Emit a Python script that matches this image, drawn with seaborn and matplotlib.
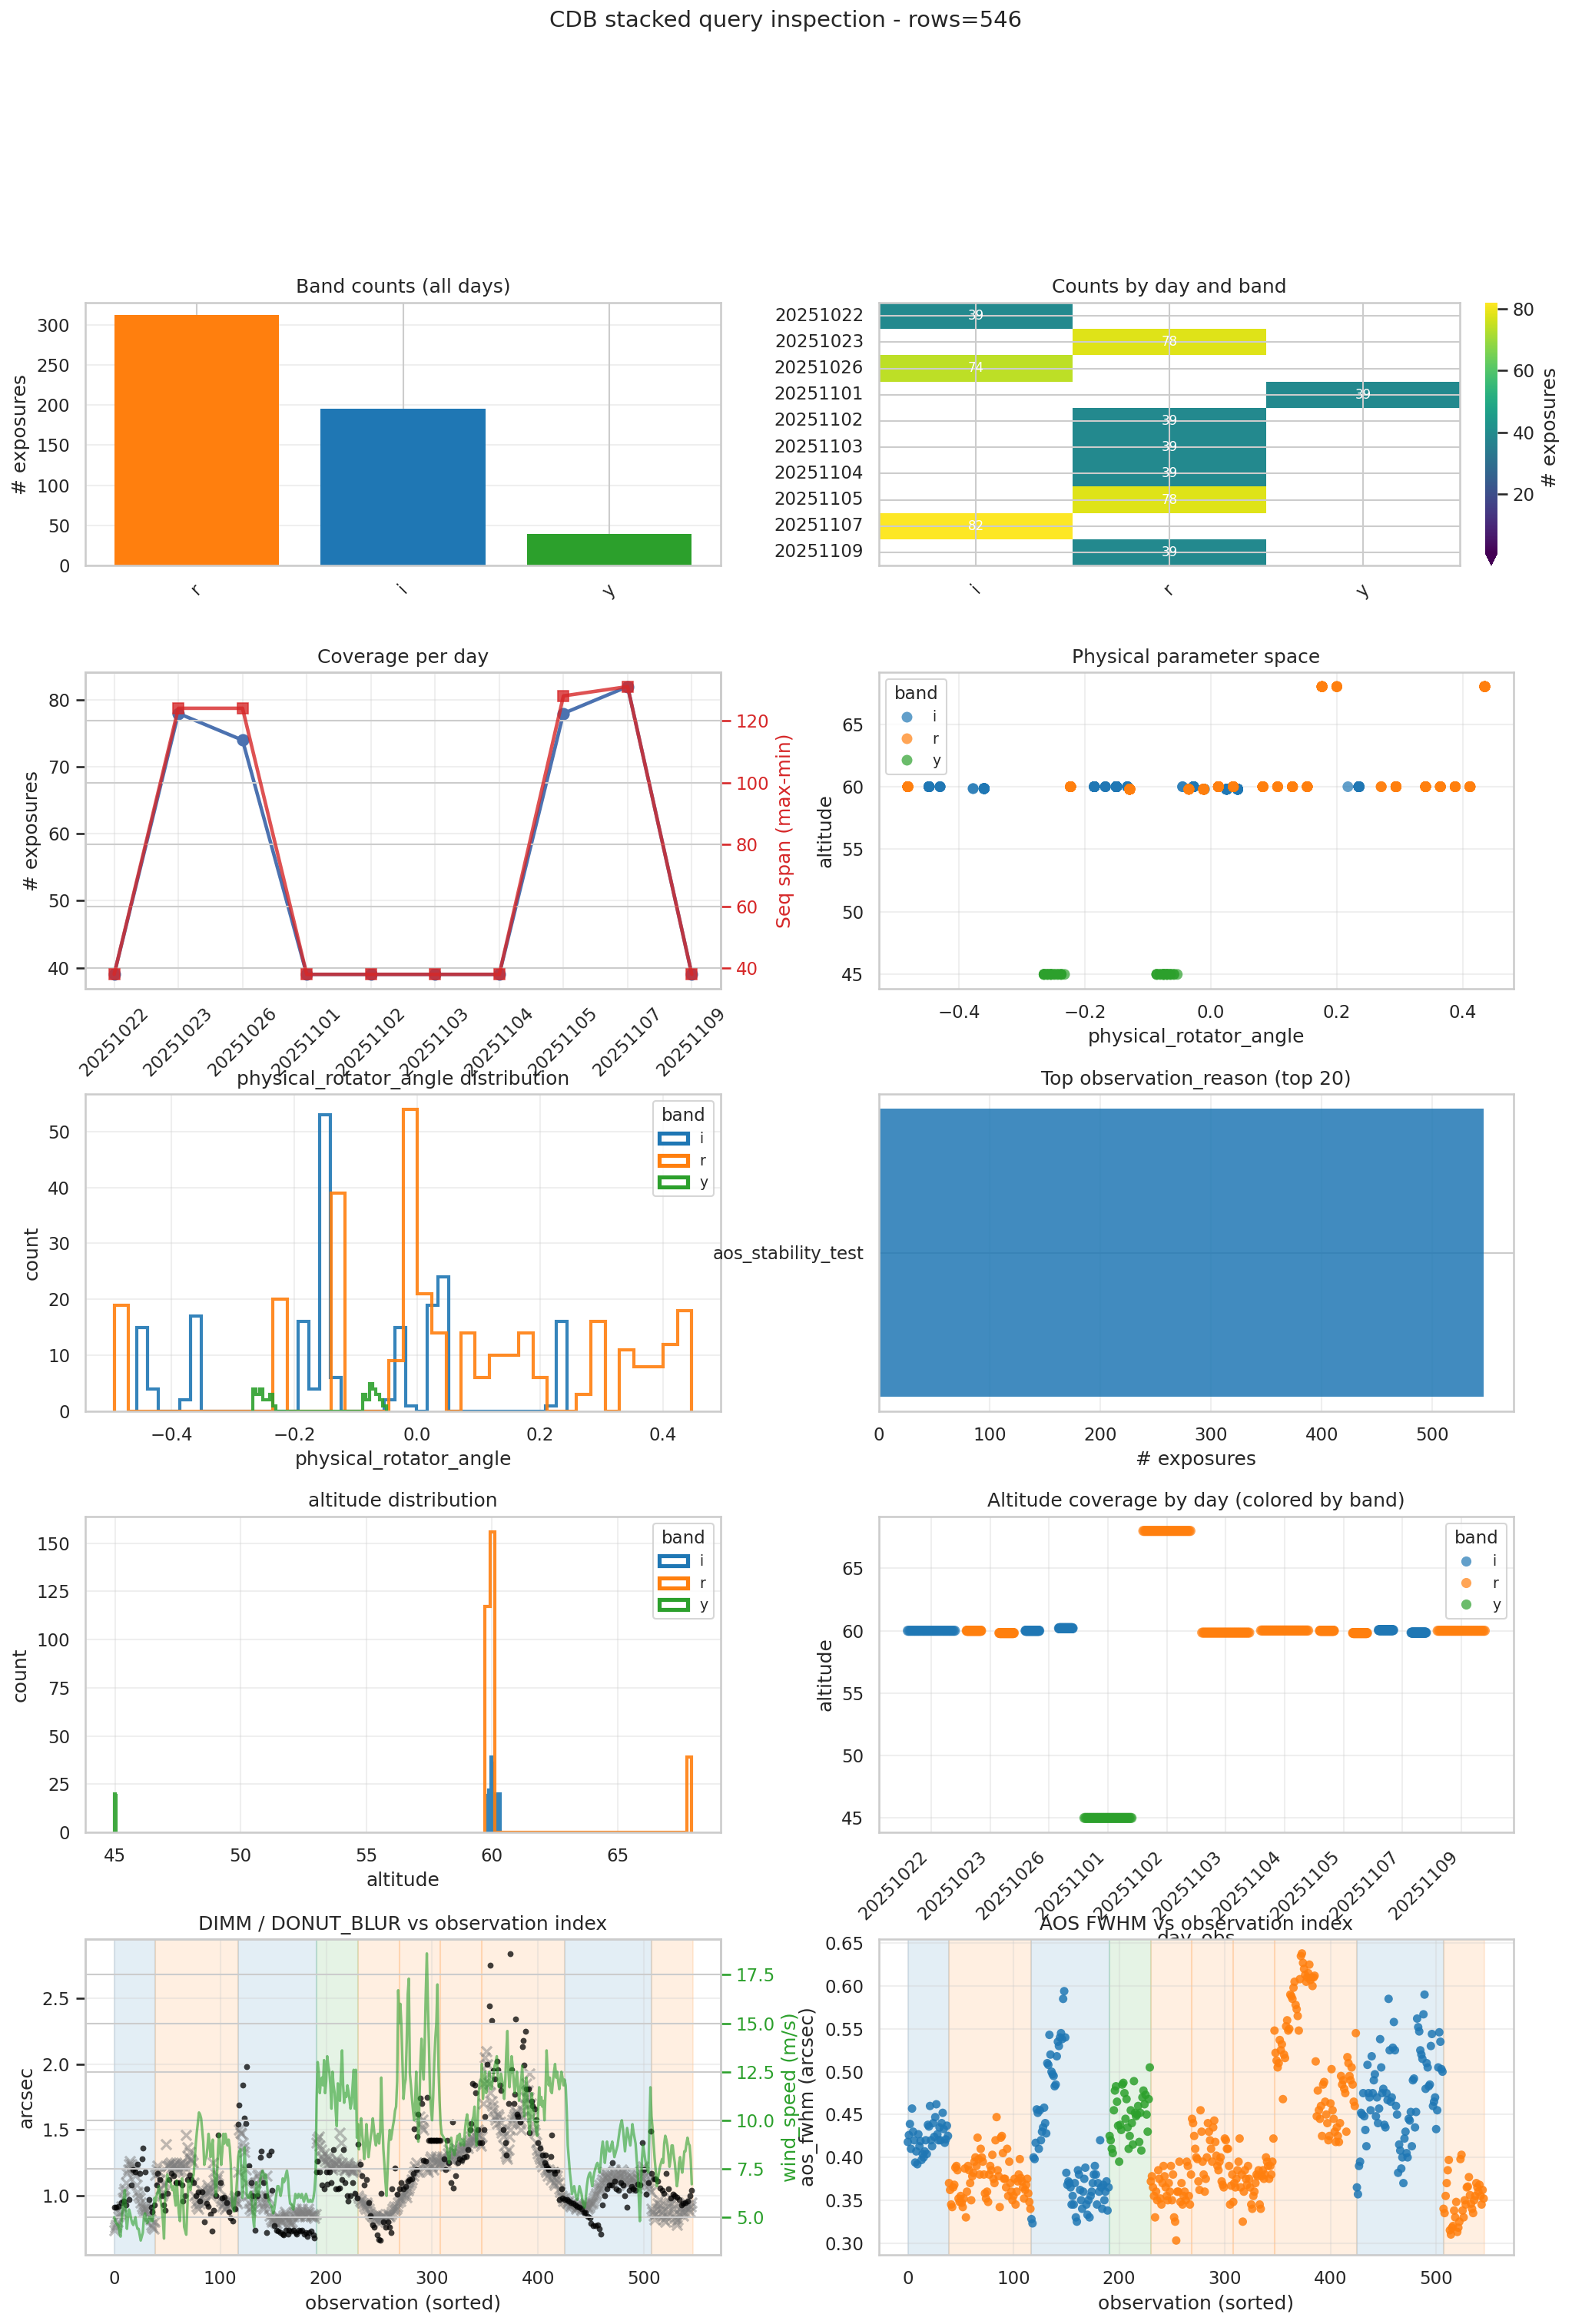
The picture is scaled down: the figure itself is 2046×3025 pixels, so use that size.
import numpy as np
import pandas as pd
import matplotlib
matplotlib.use("Agg")
import matplotlib.pyplot as plt
from matplotlib.patches import Patch
import seaborn as sns

# ----------------------------------------------------------------- data
DAYS = ["20251022", "20251023", "20251026", "20251101", "20251102",
        "20251103", "20251104", "20251105", "20251107", "20251109"]
BANDS = ["i", "r", "y"]
BAND_COLORS = {"i": "#1f77b4", "r": "#ff7f0e", "y": "#2ca02c"}

# exposure blocks (consecutive seq numbers) per day
blk_day = ["20251022", "20251023", "20251023", "20251026", "20251026", "20251101", "20251102",
           "20251103", "20251104", "20251105", "20251105", "20251107", "20251107", "20251109"]
blk_band = ["i", "r", "r", "i", "i", "y", "r", "r", "r", "r", "r", "i", "i", "r"]
blk_alt = [60.0, 60.0, 59.82, 60.0, 60.2, 45.0, 68.0, 59.85, 60.02, 60.0, 59.82, 60.05, 59.85, 60.0]
blk_seq0 = [1, 1, 87, 1, 89, 1, 1, 1, 1, 1, 91, 1, 92, 1]
blk_n = [39, 39, 39, 37, 37, 39, 39, 39, 39, 39, 39, 41, 41, 39]

# physical_rotator_angle histograms (range, counts in 40 bins)
rot_i_range = (-0.4563, 0.2441)
rot_i_counts = [15, 4, 0, 0, 2, 17, 0, 0, 0, 0, 0, 0, 0, 0, 0, 16, 4, 53, 6, 0,
                0, 0, 0, 2, 15, 1, 0, 19, 24, 0, 0, 0, 0, 0, 0, 0, 0, 0, 1, 16]
rot_r_range = (-0.493, 0.447)
rot_r_counts = [19, 0, 0, 0, 0, 0, 0, 0, 0, 0, 0, 20, 0, 0, 0, 39, 0, 0, 0, 9,
                54, 21, 14, 0, 14, 6, 10, 10, 14, 6, 0, 0, 3, 16, 0, 11, 8, 8, 12, 18]
rot_y_range = (-0.2675, -0.0505)
rot_y_counts = [4, 3, 4, 2, 2, 3, 1, 0, 0, 0, 0, 0, 0, 0, 0, 0, 0, 0, 0, 0,
                0, 0, 0, 0, 0, 0, 0, 0, 0, 0, 0, 0, 0, 3, 2, 5, 4, 3, 2, 1]
# altitude of the exposures in each rotator bin
rot_i_alt = {0: 60.0, 1: 60.0, 4: 59.85, 5: 59.85, 15: 60.0, 16: 60.0, 17: 60.0, 18: 60.0,
             23: 60.0, 24: 60.0, 25: 59.8, 27: 59.8, 28: 59.8, 38: 60.0, 39: 60.0}
rot_r_alt = {0: 60.0, 11: 60.0, 15: 59.8, 19: 59.8, 20: 59.8, 21: 60.0, 22: 60.0, 24: 60.0,
             25: 60.0, 26: 60.0, 27: 60.0, 28: 68.0, 29: 68.0, 32: 60.0, 33: 60.0, 35: 60.0,
             36: 60.0, 37: 60.0, 38: 60.0, 39: 68.0}
rot_y_alt = 45.0

# altitude histograms
alt_i_range = (59.84, 60.32)
alt_i_counts = [19, 22, 0, 39, 36, 20, 0, 0, 0, 19, 20, 20]
alt_r_range = (59.72, 67.96)
alt_r_counts = [117, 156] + [0] * 37 + [39]
alt_y_range = (44.97, 45.03)
alt_y_counts = [20, 19]

# per-observation series (sorted observation index 0..545)
aos_fwhm_mas = [
    418, 426, 439, 410, 457, 430, 420, 394, 407, 392, 427, 413, 419, 397, 404, 400, 407, 420, 404, 438,
    436, 460, 420, 413, 440, 424, 447, 462, 427, 420, 435, 420, 440, 452, 433, 417, 421, 437, 425,
    370, 362, 345, 342, 365, 368, 388, 390, 385, 352, 348, 355, 347, 342, 352, 387, 330, 360, 390, 385,
    370, 350, 378, 382, 395, 400, 390, 423, 398, 380, 410, 400, 395, 380, 358, 352, 360, 348, 380, 390,
    385, 403, 375, 370, 420, 447, 385, 378, 342, 423, 425, 405, 375, 375, 365, 410, 355, 395, 370, 360,
    350, 355, 375, 345, 360, 372, 380, 398, 376, 372, 365, 352, 362, 368, 375, 358, 348, 340,
    328, 323, 400, 398, 417, 456, 452, 410, 455, 420, 430, 435, 458, 440, 428, 510, 508, 543, 520, 500,
    497, 495, 483, 485, 518, 535, 530, 540, 545, 538, 585, 594, 540, 382, 368, 372, 370, 365, 345, 355,
    345, 370, 330, 325, 385, 380, 362, 350, 340, 360, 375, 388, 345, 333, 350, 330, 355, 360, 370, 380,
    390, 380, 345, 370, 360, 420, 365, 340, 368, 350, 360, 372, 338, 365,
    425, 420, 410, 405, 455, 478, 483, 465, 437, 395, 438, 432, 485, 487, 475, 445, 468, 435, 410, 425,
    455, 440, 415, 489, 452, 448, 450, 460, 418, 452, 408, 470, 478, 462, 473, 450, 430, 468, 505,
    372, 378, 365, 355, 330, 360, 350, 385, 375, 352, 345, 370, 390, 378, 365, 355, 350, 370, 360, 390,
    350, 380, 330, 325, 303, 360, 360, 395, 348, 370, 345, 355, 360, 350, 395, 390, 355, 345, 380,
    445, 440, 425, 410, 400, 398, 372, 362, 455, 430, 395, 380, 360, 375, 400, 440, 430, 420, 410, 395,
    435, 443, 418, 402, 390, 385, 395, 400, 372, 368, 365, 422, 420, 410, 410, 390, 345, 367, 380,
    348, 370, 365, 375, 385, 395, 422, 365, 380, 325, 360, 385, 375, 368, 390, 375, 365, 345, 340, 355,
    360, 370, 380, 378, 385, 345, 340, 378, 385, 375, 380, 400, 395, 390, 375, 390, 380, 395, 422,
    548, 522, 513, 505, 510, 537, 525, 532, 468, 520, 516, 553, 560, 548, 550, 590, 588, 585, 598, 605,
    578, 573, 565, 548, 608, 635, 638, 627, 620, 613, 605, 610, 615, 625, 607, 610, 600, 610, 612, 512,
    448, 478, 455, 445, 460, 425, 485, 488, 465, 450, 440, 420, 425, 463, 503, 455, 445, 430, 418, 435,
    425, 418, 440, 495, 485, 490, 480, 475, 430, 517, 510, 495, 490, 505, 485, 465, 460, 545,
    365, 357, 390, 395, 452, 450, 475, 448, 432, 413, 508, 475, 470, 455, 518, 475, 490, 497, 448, 470,
    440, 457, 538, 505, 475, 480, 438, 435, 475, 467, 585, 525, 465, 470, 528, 558, 525, 460, 450, 382,
    415, 408, 387, 400, 370, 422, 430, 405, 400, 445, 443, 453, 413, 490, 492, 435, 453, 562, 552, 547,
    525, 520, 515, 567, 590, 480, 510, 505, 483, 485, 530, 544, 460, 465, 470, 433, 455, 505, 546, 535,
    503, 500,
    340, 335, 355, 370, 385, 397, 315, 310, 318, 320, 338, 330, 348, 313, 318, 325, 398, 403, 338, 330,
    350, 345, 365, 366, 377, 356, 346, 340, 335, 350, 355, 370, 365, 360, 368, 355, 345, 362, 352]

# DIMM seeing (hundredths of arcsec); None = no DIMM sample for that exposure
dimm_cs = [
    91, None, 91, None, 92, None, None, 95, None, 96, None, 93, None, None, 97, None, 108, None, 120, None,
    118, None, 124, None, 117, None, 128, 136, None, 118, None, 105, None, 97, None, 91, 88, None, 93,
    None, 108, 117, None, 112, None, 100, None, 93, 89, None, 102, None, 112, None, 117, None, 115, None, 110,
    110, None, 110, None, None, 108, 96, None, 100, None, 112, None, 116, None, 112, None, 110, None, 100, None,
    103, None, 96, None, 103, None, 80, None, 94, None, 92, None, 86, 73, None, 89, None, 100, None, 146,
    None, 110, None, 98, None, 99, None, 95, None, 88, None, 83, None, 81, None, 90, None, 102,
    154, 169, None, None, 184, None, 159, 155, 198, None, 123, None, 110, None, 100, None, 74, None, 100, None,
    None, 129, 134, None, 110, None, 100, 72, None, 131, None, 134, 104, None, 77, None, 74, None, 73, None,
    72, None, 71, 70, None, 74, None, 71, 74, None, 73, None, 74, None, 72, 71, None, 74, None, 73,
    74, None, 71, None, 72, 69, None, 72, None, 73, None, 70, 68, None,
    118, 126, None, 118, None, 108, None, 105, None, 118, 109, None, 118, None, 110, None, 135, None, 105, None,
    105, None, 106, None, 112, 135, None, 110, None, 100, 96, None, 100, None, 110, None, 102, None, 98,
    139, None, 124, None, 115, None, 108, None, 112, None, 95, None, 85, None, 78, 76, None, None, 70, None,
    67, 66, 102, None, 80, None, 76, None, 80, None, 76, 72, 105, None, None, 121, None, 101, None, 105,
    None, 110, None, 105, None, 107, None, 111, None, 112, None, 113, 117, 151, None, 120, 145, 162, None, 174,
    170, None, 127, None, 126, 175, None, 142, 142, 142, 142, 142, 142, 142, 142, 142, 142, None, 142, None,
    None, 128, None, 120, 142, None, 125, None, 110, 156, 106, None, 115, None, 125, None, 128, None, 127, None,
    129, None, 130, None, 135, None, 150, 155, 185, None, 184, 178, None, 150, None, 140, None, 140, None, 150,
    160, None, 200, None, 244, 275, 233, None, 195, 189, None, 202, 196, None, 184, 180, None, 150, None, 140,
    131, None, 170, None, 284, 196, None, 170, 177, 234, 162, 160, None, 156, None, 213, 218, 199, 225, 181,
    None, 181, 148, None, 172, 168, None, 166, 158, None, 140, None, 136, None, 131, None, 125, 131, 123, 121,
    120, None, 130, 146, None, 119, 117, None, 119, None, 97, None, 105, 98, None,
    97, None, 97, None, 96, None, 95, None, 94, None, 93, None, 92, None, 91, None, 90, None, 87, None,
    87, None, 84, None, 83, 79, None, 77, None, 77, None, 78, None, 75, 71, None, 93, None, 100, None,
    105, None, 108, None, 108, 125, None, 111, None, 105, None, 104, None, 110, None, 108, None, 100, None, 91,
    None, 104, None, 107, None, 105, None, 104, None, 109, None, 108, None, 140, None, 120, None, 101, None, 110,
    None, 149,
    117, None, 113, None, 113, None, 111, None, 106, None, 104, None, 102, None, 117, None, 105, None, 98, None,
    101, None, 100, None, 99, None, 97, None, 93, None, 94, None, 95, None, 96, None, 100, None, 104]

donut_cs = [
    74, 76, 78, 80, 84, 86, 88, 92, 98, 103, 105, 110, 117, 120, 124, 126, 124, 122, 120, 118,
    115, 108, 103, 100, 98, 95, 92, 90, 88, 90, 92, 89, 86, 84, 82, 78, 76, 75, 80,
    116, 120, 123, 118, 112, 105, 100, 102, 108, 110, 139, 122, 123, 124, 125, 121, 122, 123, 124, 125,
    122, 120, 118, 124, 125, 123, 118, 122, 124, 146, 137, 130, 133, 128, 127, 125, 110, 100, 95, 92,
    90, 97, 94, 99, 104, 100, 95, 102, 104, 108, 106, 103, 100, 105, 125, 118, 110, 108, 112, 115,
    105, 98, 96, 92, 94, 95, 90, 92, 96, 94, 93, 95, 96, 92, 98, 100, 96, 94,
    118, 150, 148, 147, 140, 137, 133, 120, 110, 100, 95, 90, 88, 92, 96, 100, 105, 110, 115, 117,
    112, 100, 95, 92, 90, 95, 100, 115, 98, 90, 85, 82, 80, 81, 83, 80, 79, 82, 84, 83,
    81, 80, 82, 85, 88, 86, 84, 82, 80, 79, 78, 80, 84, 87, 90, 88, 86, 84, 85, 87,
    90, 88, 86, 84, 85, 88, 90, 87, 85, 84, 86, 85, 83, 86,
    140, 143, 145, 138, 135, 130, 128, 132, 126, 124, 130, 128, 125, 123, 121, 120, 122, 125, 124, 128,
    126, 122, 148, 140, 125, 122, 120, 119, 121, 123, 125, 122, 120, 119, 118, 120, 122, 124, 120,
    100, 98, 96, 97, 95, 94, 92, 90, 95, 93, 90, 88, 86, 85, 84, 83, 82, 84, 86, 83,
    82, 80, 83, 85, 84, 82, 80, 83, 86, 85, 84, 86, 88, 90, 92, 89, 90, 92, 95, 98,
    96, 98, 100, 102, 104, 101, 99, 104, 106, 108, 110, 112, 115, 118, 122, 125, 120, 118, 160, 155,
    152, 158, 150, 125, 122, 120, 118, 125, 128, 130, 122, 120, 125, 128, 130, 126, 124, 122, 125, 128,
    130, 127, 123, 125, 128, 132, 135, 130, 128, 126, 130, 133, 136, 132, 130, 128, 132, 135, 138, 136,
    134, 137, 140, 138, 136, 140, 142, 145, 143, 140, 142, 145, 148, 150, 146, 140, 138, 145, 170, 185,
    205, 210, 200, 192, 185, 178, 172, 168, 165, 160, 158, 155, 162, 160, 156, 150, 148, 145, 138, 132,
    130, 128, 135, 145, 150, 155, 158, 160, 162, 164, 163, 160, 158, 155, 150, 165, 160, 170, 175, 185,
    180, 175, 193, 170, 160, 155, 150, 148, 140, 135, 132, 130, 128, 125, 122, 128, 125, 120, 118, 115,
    120, 118, 112, 115, 118, 110, 108, 112, 115, 110, 105, 103, 100, 98, 96,
    98, 96, 95, 94, 96, 93, 92, 94, 95, 93, 92, 90, 91, 93, 92, 90, 89, 91, 92, 93,
    94, 92, 90, 91, 93, 95, 94, 96, 98, 100, 102, 104, 106, 108, 105, 110, 112, 115, 118, 114,
    116, 112, 110, 108, 112, 115, 118, 120, 116, 113, 110, 112, 115, 117, 120, 118, 116, 112, 110, 108,
    110, 112, 115, 118, 114, 112, 110, 108, 106, 109, 112, 115, 118, 120, 122, 118, 115, 112, 110, 108,
    105, 103,
    90, 88, 85, 82, 86, 90, 94, 97, 93, 90, 88, 85, 82, 80, 84, 88, 92, 95, 98, 94,
    90, 86, 83, 80, 78, 82, 86, 90, 92, 88, 85, 88, 92, 95, 93, 90, 88, 92, 95]

wind_dms = [
    50, 48, 47, 46, 46, 42, 40, 48, 55, 60, 64, 52, 44, 50, 54, 52, 49, 47, 46, 48,
    50, 46, 44, 44, 41, 38, 40, 42, 50, 52, 49, 47, 48, 50, 50, 48, 48, 52, 60,
    58, 61, 63, 66, 62, 58, 54, 48, 39, 61, 65, 72, 70, 69, 68, 66, 64, 66, 60, 56,
    69, 60, 52, 48, 58, 70, 60, 45, 43, 41, 55, 69, 66, 64, 68, 70, 72, 80, 88, 94,
    99, 104, 103, 101, 95, 89, 77, 80, 81, 86, 93, 88, 81, 86, 90, 74, 68, 61, 72, 85,
    93, 85, 77, 84, 93, 88, 93, 90, 87, 90, 86, 77, 60, 55, 53, 58, 62, 70,
    81, 84, 85, 72, 60, 68, 86, 75, 62, 60, 60, 62, 63, 58, 50, 45, 55, 68, 64, 61,
    65, 70, 72, 74, 72, 70, 72, 68, 61, 58, 57, 56, 55, 52, 54, 58, 62, 66, 66, 64,
    61, 64, 70, 68, 69, 72, 74, 70, 62, 57, 57, 55, 54, 58, 62, 60, 60, 62, 61, 60,
    62, 60, 58, 60, 62, 60, 58, 58, 59, 58, 58, 60, 64, 72,
    111, 130, 125, 114, 120, 122, 118, 131, 114, 120, 133, 128, 125, 118, 106, 125, 118, 114, 105, 97,
    119, 112, 110, 125, 136, 118, 109, 114, 112, 118, 115, 111, 106, 109, 118, 126, 106, 126, 91,
    98, 85, 95, 101, 93, 87, 80, 87, 98, 90, 81, 86, 91, 95, 101, 96, 90, 87, 92, 93,
    88, 94, 122, 100, 85, 77, 68, 61, 75, 88, 95, 90, 93, 97, 100, 105, 107, 120, 167, 150,
    160, 149, 130, 111, 118, 121, 140, 165, 173, 124, 118, 111, 105, 100, 110, 125, 105, 89, 110, 130,
    142, 128, 121, 140, 165, 186, 160, 139, 114, 105, 100, 112, 130, 142, 150, 170, 128, 110, 98, 93,
    92, 91, 90, 89, 85, 82, 78, 85, 91, 86, 84, 82, 85, 89, 92, 90, 93, 87, 90, 88,
    87, 95, 100, 103, 98, 92, 96, 94, 100, 102, 107, 95, 87, 100, 114, 120, 118, 129, 111, 118,
    125, 114, 120, 118, 125, 116, 116, 120, 124, 128, 130, 133, 122, 117, 120, 124, 121, 118, 111, 120,
    135, 146, 125, 117, 125, 133, 128, 120, 114, 120, 125, 118, 110, 115, 120, 128, 115, 102, 115, 122,
    110, 100, 93, 105, 114, 108, 100, 100, 95, 92, 105, 117, 108, 112, 107, 110, 100, 115, 136, 125,
    118, 122, 115, 114, 120, 125, 129, 122, 125, 120, 116, 120, 125, 122, 118,
    121, 118, 105, 87, 80, 73, 68, 62, 64, 66, 63, 60, 59, 62, 66, 64, 62, 58, 56, 55,
    60, 66, 70, 72, 73, 70, 66, 70, 73, 75, 77, 78, 76, 73, 78, 85, 89, 84, 78, 83,
    89, 86, 84, 84, 87, 89, 85, 81, 83, 85, 87, 91, 95, 98, 100, 96, 90, 84, 90, 96,
    93, 90, 87, 92, 98, 94, 91, 88, 80, 73, 60, 48, 65, 80, 87, 84, 80, 77, 75, 73,
    95, 117,
    102, 96, 88, 80, 74, 66, 70, 73, 76, 78, 80, 78, 88, 92, 90, 87, 82, 76, 80, 87,
    87, 82, 78, 72, 66, 70, 78, 81, 76, 73, 78, 84, 84, 88, 91, 88, 87, 80, 67]

reason_labels = ["aos_stability_test"]
reason_counts = [546]

# ----------------------------------------------------------------- tables
rows = []
for d, b, a, s0, n in zip(blk_day, blk_band, blk_alt, blk_seq0, blk_n):
    for k in range(n):
        rows.append((d, b, a, s0 + k))
obs = pd.DataFrame(rows, columns=["day_obs", "band", "altitude", "seq_num"])
obs = obs.sort_values(["day_obs", "seq_num"]).reset_index(drop=True)
obs["idx"] = np.arange(len(obs))
N = len(obs)
for name, arr in [("aos", aos_fwhm_mas), ("dimm", dimm_cs), ("donut", donut_cs), ("wind", wind_dms)]:
    if len(arr) != N:
        print("LENGTH MISMATCH", name, len(arr), N)
obs["aos_fwhm"] = np.array(aos_fwhm_mas[:N], float) / 1000.0
obs["dimm"] = np.array(dimm_cs[:N], dtype=float) / 100.0
obs["donut_blur"] = np.array(donut_cs[:N], float) / 100.0
obs["wind_speed"] = np.array(wind_dms[:N], float) / 10.0

day_stats = obs.groupby("day_obs").agg(n=("seq_num", "size"),
                                       smin=("seq_num", "min"), smax=("seq_num", "max")).reindex(DAYS)
day_stats["span"] = day_stats["smax"] - day_stats["smin"]
obs["day_i"] = obs["day_obs"].map({d: i for i, d in enumerate(DAYS)})
obs["xpos"] = obs["day_i"] + (-0.4 + 0.8 * (obs["seq_num"] - obs["day_obs"].map(day_stats["smin"]))
                              / obs["day_obs"].map(day_stats["span"]))

band_counts = obs["band"].value_counts()
pivot = obs.pivot_table(index="day_obs", columns="band", values="seq_num", aggfunc="size").reindex(index=DAYS, columns=BANDS)


def bin_edges(rng, counts):
    return np.linspace(rng[0], rng[1], len(counts) + 1)


def bin_centers(rng, counts):
    e = bin_edges(rng, counts)
    return 0.5 * (e[:-1] + e[1:])


phys_rows = []
for b, rng, cnts, alt in [("i", rot_i_range, rot_i_counts, rot_i_alt),
                          ("r", rot_r_range, rot_r_counts, rot_r_alt),
                          ("y", rot_y_range, rot_y_counts, None)]:
    cen = bin_centers(rng, cnts)
    for k, c in enumerate(cnts):
        for _ in range(c):
            phys_rows.append((b, cen[k], rot_y_alt if alt is None else alt[k]))
phys = pd.DataFrame(phys_rows, columns=["band", "physical_rotator_angle", "altitude"])

# ----------------------------------------------------------------- style
sns.set_theme(style="whitegrid", context="notebook")
plt.rcParams["font.family"] = ["DejaVu Sans"]

W, H = 2046, 3025
fig = plt.figure(figsize=(W / 150, H / 150), dpi=150)


def axpos(x0, y0, x1, y1):
    return [x0 / W, 1 - y1 / H, (x1 - x0) / W, (y1 - y0) / H]


LX = (111, 938)
RX = (1144, 1970)
ROWS = [(394, 736), (875, 1287), (1424, 1837), (1974, 2385), (2524, 2935)]

LEG = dict(fontsize=9, title_fontsize=11)


def step_hist(ax, rng, cnts, color):
    ax.stairs(np.asarray(cnts, float), bin_edges(rng, cnts), baseline=0, fill=False,
              color=color, linewidth=2, alpha=0.9)


# 1. band counts
ax = fig.add_axes(axpos(LX[0], ROWS[0][0], LX[1], ROWS[0][1]))
order = list(band_counts.index)
ax.bar(range(len(order)), band_counts.values, width=0.8,
       color=[BAND_COLORS[b] for b in order], edgecolor="none")
ax.set_xticks(range(len(order)))
ax.set_xticklabels(order, rotation=45)
ax.set_ylabel("# exposures")
ax.set_title("Band counts (all days)")
ax.grid(True, axis="y", alpha=0.3)

# 2. heatmap
ax = fig.add_axes(axpos(RX[0], ROWS[0][0], 1900, ROWS[0][1]))
cax = fig.add_axes(axpos(1933, ROWS[0][0], 1949, ROWS[0][1]))
sns.heatmap(pivot, ax=ax, cbar_ax=cax, cmap="viridis", vmin=1, vmax=82,
            annot=True, fmt="g", annot_kws={"size": 8, "color": "white"},
            cbar_kws={"label": "# exposures", "extend": "min"})
ax.set_xlabel("")
ax.set_ylabel("")
ax.set_title("Counts by day and band")
ax.set_xticklabels(ax.get_xticklabels(), rotation=45)
ax.set_yticklabels(ax.get_yticklabels(), rotation=0)
for sp in ax.spines.values():
    sp.set_visible(True)
    sp.set_color("0.8")
    sp.set_linewidth(1.25)
ax.grid(True)
ax.set_axisbelow(False)

# 3. coverage per day
ax = fig.add_axes(axpos(LX[0], ROWS[1][0], LX[1], ROWS[1][1]))
sns.lineplot(x=DAYS, y=day_stats["n"].values, ax=ax, marker="o", color="#4c72b0",
             linewidth=2.2, markersize=7, markeredgecolor="#4c72b0")
ax.set_ylabel("# exposures")
ax.set_title("Coverage per day")
ax.tick_params(axis="x", labelrotation=45)
ax.grid(True, alpha=0.3)
ax2 = ax.twinx()
sns.lineplot(x=DAYS, y=day_stats["span"].values, ax=ax2, marker="s", color="#d62728",
             alpha=0.8, linewidth=2.2, markersize=7, markeredgecolor="#d62728")
ax2.set_ylabel("Seq span (max-min)", color="#d62728")
ax2.tick_params(axis="y", colors="#d62728")

# 4. physical parameter space
ax = fig.add_axes(axpos(RX[0], ROWS[1][0], RX[1], ROWS[1][1]))
sns.scatterplot(data=phys, x="physical_rotator_angle", y="altitude", hue="band",
                hue_order=BANDS, palette=BAND_COLORS, s=45, alpha=0.7, linewidth=0, ax=ax)
ax.set_title("Physical parameter space")
ax.grid(True, alpha=0.3)
sns.move_legend(ax, "upper left", title="band", **LEG)

# 5. rotator angle histogram
ax = fig.add_axes(axpos(LX[0], ROWS[2][0], LX[1], ROWS[2][1]))
step_hist(ax, rot_i_range, rot_i_counts, BAND_COLORS["i"])
step_hist(ax, rot_r_range, rot_r_counts, BAND_COLORS["r"])
step_hist(ax, rot_y_range, rot_y_counts, BAND_COLORS["y"])
ax.set_xlabel("physical_rotator_angle")
ax.set_ylabel("count")
ax.set_title("physical_rotator_angle distribution")
ax.grid(True, alpha=0.3)
handles = [Patch(facecolor="none", edgecolor=BAND_COLORS[b], linewidth=2.5) for b in BANDS]
ax.legend(handles, BANDS, title="band", loc="upper right", **LEG)

# 6. observation reason
ax = fig.add_axes(axpos(RX[0], ROWS[2][0], RX[1], ROWS[2][1]))
ax.barh(reason_labels, reason_counts, color="#1f77b4", alpha=0.85, height=0.8, edgecolor="none")
ax.set_xlabel("# exposures")
ax.set_title("Top observation_reason (top 20)")
ax.grid(True, axis="x", alpha=0.3)

# 7. altitude histogram
ax = fig.add_axes(axpos(LX[0], ROWS[3][0], LX[1], ROWS[3][1]))
step_hist(ax, alt_i_range, alt_i_counts, BAND_COLORS["i"])
step_hist(ax, alt_r_range, alt_r_counts, BAND_COLORS["r"])
step_hist(ax, alt_y_range, alt_y_counts, BAND_COLORS["y"])
ax.set_xlabel("altitude")
ax.set_ylabel("count")
ax.set_title("altitude distribution")
ax.grid(True, alpha=0.3)
ax.legend(handles, BANDS, title="band", loc="upper right", **LEG)

# 8. altitude coverage by day
ax = fig.add_axes(axpos(RX[0], ROWS[3][0], RX[1], ROWS[3][1]))
sns.scatterplot(data=obs, x="xpos", y="altitude", hue="band", hue_order=BANDS,
                palette=BAND_COLORS, s=40, alpha=0.7, linewidth=0, ax=ax)
ax.set_xticks(range(len(DAYS)))
ax.set_xticklabels(DAYS, rotation=45, ha="right")
ax.set_xlabel("day_obs")
ax.set_ylabel("altitude")
ax.set_title("Altitude coverage by day (colored by band)")
ax.grid(True, alpha=0.3)
sns.move_legend(ax, "upper right", title="band", **LEG)


def shade_days(ax):
    for d in DAYS:
        sub = obs[obs["day_obs"] == d]
        ax.axvspan(sub["idx"].min(), sub["idx"].max() + 1,
                   color=BAND_COLORS[sub["band"].iloc[0]], alpha=0.12, zorder=0)


# 9. DIMM / donut blur / wind
ax = fig.add_axes(axpos(LX[0], ROWS[4][0], LX[1], ROWS[4][1]))
shade_days(ax)
sns.scatterplot(data=obs, x="idx", y="donut_blur", marker="x", color="gray", s=40,
                linewidth=1.6, alpha=0.5, ax=ax)
sns.scatterplot(data=obs.dropna(subset=["dimm"]), x="idx", y="dimm", color="black", s=14,
                alpha=0.75, linewidth=0, ax=ax)
ax.set_xlim(-27.3, 572.3)
ax.set_xlabel("observation (sorted)")
ax.set_ylabel("arcsec")
ax.set_title("DIMM / DONUT_BLUR vs observation index")
ax.grid(True, alpha=0.3)
ax2 = ax.twinx()
sns.lineplot(data=obs, x="idx", y="wind_speed", color="#2ca02c", alpha=0.6, linewidth=1.6, ax=ax2)
ax2.set_ylabel("wind_speed (m/s)", color="#2ca02c")
ax2.tick_params(axis="y", colors="#2ca02c")

# 10. AOS FWHM
ax = fig.add_axes(axpos(RX[0], ROWS[4][0], RX[1], ROWS[4][1]))
shade_days(ax)
sns.scatterplot(data=obs, x="idx", y="aos_fwhm", hue="band", hue_order=BANDS,
                palette=BAND_COLORS, s=28, alpha=0.85, linewidth=0, legend=False, ax=ax)
ax.set_xlabel("observation (sorted)")
ax.set_ylabel("aos_fwhm (arcsec)")
ax.set_title("AOS FWHM vs observation index")
ax.grid(True, alpha=0.3)

fig.suptitle("CDB stacked query inspection - rows=546", fontsize=14, y=0.991, va="center")
fig.savefig("out.png", dpi=150)
